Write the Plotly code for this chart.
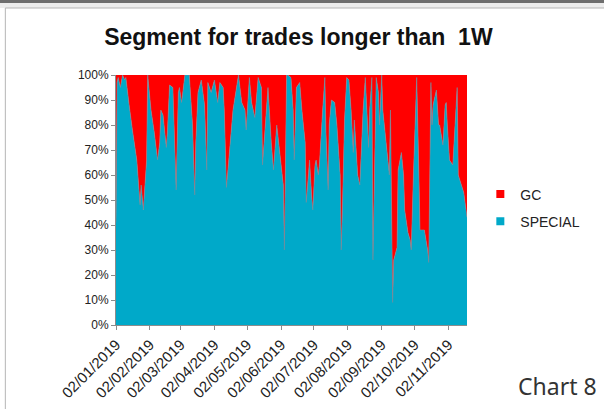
import plotly.graph_objects as go

# ---- data -------------------------------------------------------------
dates = [
    "2019-01-02", "2019-01-03", "2019-01-04", "2019-01-06", "2019-01-08", "2019-01-10", "2019-01-11",
    "2019-01-13", "2019-01-14", "2019-01-17", "2019-01-21", "2019-01-24", "2019-01-25", "2019-01-27",
    "2019-01-28", "2019-01-30", "2019-01-31", "2019-02-03", "2019-02-06", "2019-02-09", "2019-02-11",
    "2019-02-12", "2019-02-14", "2019-02-15", "2019-02-17", "2019-02-18", "2019-02-20", "2019-02-23",
    "2019-02-26", "2019-02-28", "2019-03-01", "2019-03-03", "2019-03-06", "2019-03-09", "2019-03-10",
    "2019-03-13", "2019-03-15", "2019-03-16", "2019-03-18", "2019-03-21", "2019-03-24", "2019-03-26",
    "2019-03-27", "2019-03-30", "2019-04-02", "2019-04-05", "2019-04-07", "2019-04-10", "2019-04-11",
    "2019-04-13", "2019-04-16", "2019-04-19", "2019-04-24", "2019-04-27", "2019-04-30", "2019-05-01",
    "2019-05-04", "2019-05-06", "2019-05-09", "2019-05-12", "2019-05-15", "2019-05-16", "2019-05-20",
    "2019-05-21", "2019-05-24", "2019-05-26", "2019-05-29", "2019-06-01", "2019-06-04", "2019-06-05",
    "2019-06-07", "2019-06-08", "2019-06-11", "2019-06-13", "2019-06-14", "2019-06-16", "2019-06-19",
    "2019-06-21", "2019-06-24", "2019-06-25", "2019-06-27", "2019-06-28", "2019-06-30", "2019-07-01",
    "2019-07-03", "2019-07-04", "2019-07-06", "2019-07-07", "2019-07-10", "2019-07-12", "2019-07-13",
    "2019-07-15", "2019-07-16", "2019-07-18", "2019-07-21", "2019-07-23", "2019-07-26", "2019-07-27",
    "2019-07-28", "2019-07-30", "2019-08-01", "2019-08-03", "2019-08-05", "2019-08-07", "2019-08-08",
    "2019-08-10", "2019-08-11", "2019-08-13", "2019-08-15", "2019-08-16", "2019-08-18", "2019-08-19",
    "2019-08-21", "2019-08-22", "2019-08-24", "2019-08-25", "2019-08-27", "2019-08-28", "2019-08-30",
    "2019-08-31", "2019-09-02", "2019-09-03", "2019-09-06", "2019-09-09", "2019-09-10", "2019-09-11",
    "2019-09-12", "2019-09-13", "2019-09-16", "2019-09-17", "2019-09-19", "2019-09-20", "2019-09-22",
    "2019-09-23", "2019-09-25", "2019-09-26", "2019-09-28", "2019-09-29", "2019-10-01", "2019-10-04",
    "2019-10-06", "2019-10-07", "2019-10-11", "2019-10-14", "2019-10-15", "2019-10-17", "2019-10-18",
    "2019-10-19", "2019-10-22", "2019-10-24", "2019-10-25", "2019-10-28", "2019-10-30", "2019-10-31",
    "2019-11-01", "2019-11-03", "2019-11-06", "2019-11-10", "2019-11-11", "2019-11-14", "2019-11-16",
    "2019-11-19",
]

special = [
    41, 97, 99, 95, 100, 98, 99,
    93, 88, 78, 66, 48, 56, 46,
    54, 66, 100, 86, 77, 66, 73,
    86, 84, 80, 71, 77, 96, 95,
    54, 93, 95, 89, 100, 100, 100,
    80, 52, 73, 93, 98, 88, 62,
    97, 93, 98, 89, 97, 95, 86,
    55, 69, 86, 100, 89, 86, 78,
    99, 89, 83, 99, 95, 64, 89,
    95, 73, 62, 80, 68, 56, 30,
    100, 100, 99, 86, 66, 95, 97,
    86, 73, 49, 60, 66, 51, 46,
    64, 66, 60, 64, 86, 99, 77,
    54, 80, 90, 89, 80, 60, 30,
    45, 82, 99, 98, 86, 69, 82,
    69, 60, 56, 76, 86, 99, 91,
    71, 86, 99, 26, 89, 99, 93,
    80, 100, 86, 73, 60, 86, 53,
    9, 26, 31, 62, 68, 69, 60,
    46, 40, 37, 34, 30, 60, 99,
    60, 38, 38, 30, 25, 97, 80,
    88, 94, 80, 80, 72, 88, 89,
    80, 66, 64, 95, 60, 56, 53,
    43,
]

gc = [100 - v for v in special]

tick_dates = ["2019-01-02", "2019-02-02", "2019-03-02", "2019-04-02", "2019-05-02", "2019-06-02",
              "2019-07-02", "2019-08-02", "2019-09-02", "2019-10-02", "2019-11-02"]
tick_labels = ["02/01/2019", "02/02/2019", "02/03/2019", "02/04/2019", "02/05/2019", "02/06/2019",
               "02/07/2019", "02/08/2019", "02/09/2019", "02/10/2019", "02/11/2019"]
y_ticks = [0, 10, 20, 30, 40, 50, 60, 70, 80, 90, 100]
y_labels = ["0%", "10%", "20%", "30%", "40%", "50%", "60%", "70%", "80%", "90%", "100%"]

series_names = ["SPECIAL", "GC"]
title_text = "Segment for trades longer than  1W"
caption_text = "Chart 8"

# ---- figure -----------------------------------------------------------
CYAN = "#00A9C9"
RED = "#FF0000"
FONT = "Liberation Sans, Arial, sans-serif"

fig = go.Figure()
fig.add_trace(go.Scatter(x=dates, y=special, name=series_names[0], stackgroup="one",
                         mode="lines", line=dict(width=0.6, color="#6f8fa0"),
                         fillcolor=CYAN, showlegend=False, hoverinfo="skip"))
fig.add_trace(go.Scatter(x=dates, y=gc, name=series_names[1], stackgroup="one",
                         mode="lines", line=dict(width=0, color=RED),
                         fillcolor=RED, showlegend=False, hoverinfo="skip"))
# legend entries (square swatches like the original)
fig.add_trace(go.Scatter(x=[None], y=[None], mode="markers", name=series_names[1],
                         marker=dict(symbol="square", size=8, color=RED), legendgroup="gc"))
fig.add_trace(go.Scatter(x=[None], y=[None], mode="markers", name=series_names[0],
                         marker=dict(symbol="square", size=8, color=CYAN), legendgroup="sp"))

fig.update_layout(
    width=604, height=409,
    margin=dict(l=116, r=137, t=75, b=84, autoexpand=False),
    paper_bgcolor="white", plot_bgcolor="white",
    title=dict(text="<b>" + title_text + "</b>", x=0.494, xanchor="center",
               y=0.91, yanchor="middle",
               font=dict(family=FONT, size=23, color="#111111")),
    showlegend=True,
    legend=dict(x=1.038, xanchor="left", y=0.468, yanchor="middle",
                font=dict(family=FONT, size=14, color="#222222"),
                traceorder="grouped", tracegroupgap=6, itemwidth=30,
                bgcolor="rgba(0,0,0,0)"),
    font=dict(family=FONT, color="#222222"),
)

fig.update_xaxes(type="date", range=["2019-01-02", "2019-11-19"], automargin=False,
                 tickvals=tick_dates, ticktext=tick_labels, tickangle=-45,
                 tickfont=dict(family=FONT, size=15, color="#222222"),
                 showgrid=False, zeroline=False, showline=True, linecolor="#8c8c8c",
                 linewidth=1, ticks="outside", ticklen=4, tickcolor="#8c8c8c")
fig.update_yaxes(range=[0, 100], tickvals=y_ticks, ticktext=y_labels, automargin=False,
                 tickfont=dict(family=FONT, size=12, color="#222222"),
                 showgrid=False, zeroline=False, showline=True, linecolor="#8c8c8c",
                 linewidth=1, ticks="outside", ticklen=4, tickcolor="#8c8c8c")

# frame decorations of the original picture
fig.add_shape(type="rect", xref="paper", yref="paper", x0=-0.34, x1=1.40, y0=1.288, y1=1.31,
              fillcolor="#6e6e6e", line_width=0, layer="above")
fig.add_shape(type="rect", xref="paper", yref="paper", x0=-0.34, x1=1.40, y0=1.268, y1=1.288,
              fillcolor="#ededed", line_width=0, layer="above")
fig.add_shape(type="line", xref="paper", yref="paper", x0=-0.3153, x1=1.40, y0=1.268, y1=1.268,
              line=dict(color="#b5b5b5", width=1))
fig.add_shape(type="line", xref="paper", yref="paper", x0=-0.3153, x1=-0.3153, y0=-0.34, y1=1.268,
              line=dict(color="#b5b5b5", width=1))

fig.add_annotation(text=caption_text, xref="paper", yref="paper", x=1.376, xanchor="right",
                   y=-0.244, yanchor="middle", showarrow=False,
                   font=dict(family="Noto Sans, sans-serif", size=23, color="#333333"))

fig.write_html("out.html", post_script="document.body.style.margin='0px';",
               config={"displayModeBar": False})
